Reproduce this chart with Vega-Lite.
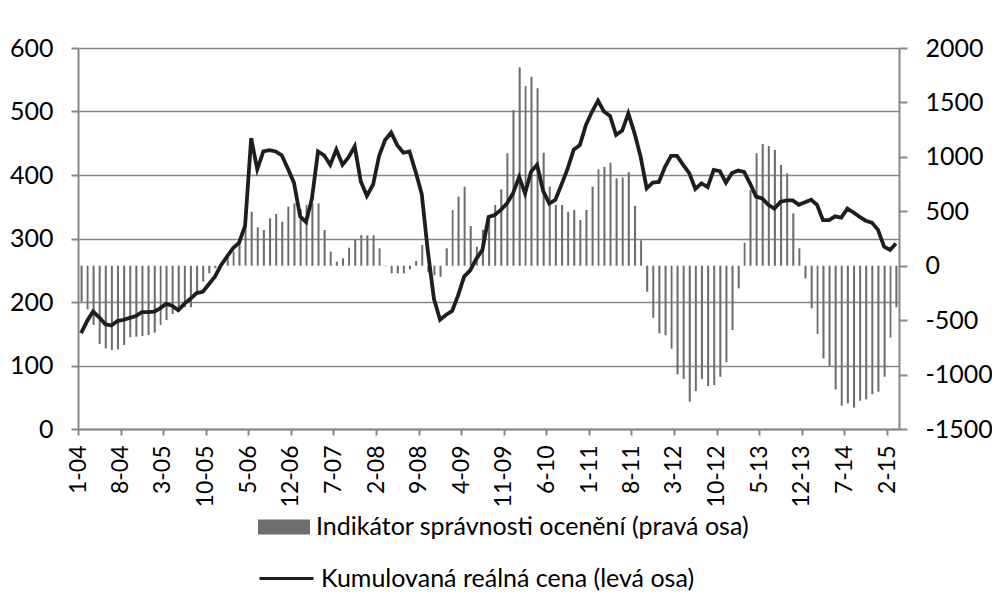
{
  "$schema": "https://vega.github.io/schema/vega-lite/v6.json",
  "width": 821,
  "height": 381,
  "autosize": "none",
  "padding": {"left": 78, "top": 48, "right": 93, "bottom": 181},
  "background": "white",
  "config": {
    "font": "Lato",
    "view": {"stroke": null},
    "axis": {
      "domainColor": "#878787",
      "domainWidth": 2,
      "tickColor": "#878787",
      "tickWidth": 2,
      "gridColor": "#878787",
      "gridWidth": 1.5,
      "labelFont": "Lato",
      "labelFontSize": 25,
      "labelColor": "#000000"
    }
  },
  "data": {
    "values": [
      {"month": "2004-01", "price": 151, "indicator": -331},
      {"month": "2004-02", "price": 170, "indicator": -401},
      {"month": "2004-03", "price": 185, "indicator": -545},
      {"month": "2004-04", "price": 176, "indicator": -719},
      {"month": "2004-05", "price": 165, "indicator": -759},
      {"month": "2004-06", "price": 163, "indicator": -774},
      {"month": "2004-07", "price": 170, "indicator": -768},
      {"month": "2004-08", "price": 172, "indicator": -728},
      {"month": "2004-09", "price": 175, "indicator": -658},
      {"month": "2004-10", "price": 178, "indicator": -652},
      {"month": "2004-11", "price": 184, "indicator": -646},
      {"month": "2004-12", "price": 184, "indicator": -637},
      {"month": "2005-01", "price": 185, "indicator": -615},
      {"month": "2005-02", "price": 190, "indicator": -545},
      {"month": "2005-03", "price": 197, "indicator": -499},
      {"month": "2005-04", "price": 194, "indicator": -444},
      {"month": "2005-05", "price": 187, "indicator": -416},
      {"month": "2005-06", "price": 197, "indicator": -382},
      {"month": "2005-07", "price": 205, "indicator": -382},
      {"month": "2005-08", "price": 214, "indicator": -254},
      {"month": "2005-09", "price": 216, "indicator": -147},
      {"month": "2005-10", "price": 228, "indicator": -70},
      {"month": "2005-11", "price": 240, "indicator": -24},
      {"month": "2005-12", "price": 258, "indicator": 30},
      {"month": "2006-01", "price": 272, "indicator": 80},
      {"month": "2006-02", "price": 285, "indicator": 130},
      {"month": "2006-03", "price": 293, "indicator": 200},
      {"month": "2006-04", "price": 320, "indicator": 383},
      {"month": "2006-05", "price": 458, "indicator": 496},
      {"month": "2006-06", "price": 409, "indicator": 353},
      {"month": "2006-07", "price": 437, "indicator": 328},
      {"month": "2006-08", "price": 439, "indicator": 435},
      {"month": "2006-09", "price": 437, "indicator": 475},
      {"month": "2006-10", "price": 431, "indicator": 404},
      {"month": "2006-11", "price": 410, "indicator": 542},
      {"month": "2006-12", "price": 388, "indicator": 573},
      {"month": "2007-01", "price": 335, "indicator": 520},
      {"month": "2007-02", "price": 326, "indicator": 558},
      {"month": "2007-03", "price": 363, "indicator": 573},
      {"month": "2007-04", "price": 437, "indicator": 573},
      {"month": "2007-05", "price": 431, "indicator": 328},
      {"month": "2007-06", "price": 416, "indicator": 129},
      {"month": "2007-07", "price": 440, "indicator": 37},
      {"month": "2007-08", "price": 416, "indicator": 68},
      {"month": "2007-09", "price": 428, "indicator": 165},
      {"month": "2007-10", "price": 445, "indicator": 236},
      {"month": "2007-11", "price": 390, "indicator": 282},
      {"month": "2007-12", "price": 367, "indicator": 279},
      {"month": "2008-01", "price": 385, "indicator": 279},
      {"month": "2008-02", "price": 430, "indicator": 160},
      {"month": "2008-03", "price": 455, "indicator": -5},
      {"month": "2008-04", "price": 467, "indicator": -70},
      {"month": "2008-05", "price": 447, "indicator": -70},
      {"month": "2008-06", "price": 435, "indicator": -70},
      {"month": "2008-07", "price": 437, "indicator": -33},
      {"month": "2008-08", "price": 405, "indicator": 43},
      {"month": "2008-09", "price": 370, "indicator": 190},
      {"month": "2008-10", "price": 280, "indicator": -60},
      {"month": "2008-11", "price": 205, "indicator": -88},
      {"month": "2008-12", "price": 172, "indicator": -101},
      {"month": "2009-01", "price": 180, "indicator": 160},
      {"month": "2009-02", "price": 186, "indicator": 512},
      {"month": "2009-03", "price": 210, "indicator": 634},
      {"month": "2009-04", "price": 240, "indicator": 726},
      {"month": "2009-05", "price": 250, "indicator": 365},
      {"month": "2009-06", "price": 268, "indicator": 175},
      {"month": "2009-07", "price": 282, "indicator": 330},
      {"month": "2009-08", "price": 334, "indicator": 420},
      {"month": "2009-09", "price": 337, "indicator": 558},
      {"month": "2009-10", "price": 345, "indicator": 702},
      {"month": "2009-11", "price": 355, "indicator": 1033},
      {"month": "2009-12", "price": 371, "indicator": 1430},
      {"month": "2010-01", "price": 397, "indicator": 1822},
      {"month": "2010-02", "price": 371, "indicator": 1651},
      {"month": "2010-03", "price": 405, "indicator": 1736},
      {"month": "2010-04", "price": 416, "indicator": 1630},
      {"month": "2010-05", "price": 375, "indicator": 1038},
      {"month": "2010-06", "price": 355, "indicator": 726},
      {"month": "2010-07", "price": 361, "indicator": 558},
      {"month": "2010-08", "price": 385, "indicator": 558},
      {"month": "2010-09", "price": 410, "indicator": 496},
      {"month": "2010-10", "price": 440, "indicator": 512},
      {"month": "2010-11", "price": 447, "indicator": 420},
      {"month": "2010-12", "price": 479, "indicator": 512},
      {"month": "2011-01", "price": 500, "indicator": 726},
      {"month": "2011-02", "price": 517, "indicator": 886},
      {"month": "2011-03", "price": 500, "indicator": 909},
      {"month": "2011-04", "price": 493, "indicator": 946},
      {"month": "2011-05", "price": 463, "indicator": 803},
      {"month": "2011-06", "price": 470, "indicator": 810},
      {"month": "2011-07", "price": 497, "indicator": 860},
      {"month": "2011-08", "price": 466, "indicator": 550},
      {"month": "2011-09", "price": 429, "indicator": 233},
      {"month": "2011-10", "price": 379, "indicator": -239},
      {"month": "2011-11", "price": 388, "indicator": -478},
      {"month": "2011-12", "price": 389, "indicator": -621},
      {"month": "2012-01", "price": 413, "indicator": -639},
      {"month": "2012-02", "price": 430, "indicator": -762},
      {"month": "2012-03", "price": 430, "indicator": -998},
      {"month": "2012-04", "price": 416, "indicator": -1041},
      {"month": "2012-05", "price": 403, "indicator": -1249},
      {"month": "2012-06", "price": 378, "indicator": -1151},
      {"month": "2012-07", "price": 387, "indicator": -1041},
      {"month": "2012-08", "price": 381, "indicator": -1105},
      {"month": "2012-09", "price": 408, "indicator": -1096},
      {"month": "2012-10", "price": 406, "indicator": -1020},
      {"month": "2012-11", "price": 388, "indicator": -887},
      {"month": "2012-12", "price": 403, "indicator": -591},
      {"month": "2013-01", "price": 407, "indicator": -208},
      {"month": "2013-02", "price": 405, "indicator": 211},
      {"month": "2013-03", "price": 387, "indicator": 695},
      {"month": "2013-04", "price": 366, "indicator": 1033},
      {"month": "2013-05", "price": 363, "indicator": 1118},
      {"month": "2013-06", "price": 353, "indicator": 1100},
      {"month": "2013-07", "price": 347, "indicator": 1063},
      {"month": "2013-08", "price": 358, "indicator": 925},
      {"month": "2013-09", "price": 360, "indicator": 849},
      {"month": "2013-10", "price": 360, "indicator": 481},
      {"month": "2013-11", "price": 353, "indicator": 160},
      {"month": "2013-12", "price": 357, "indicator": -116},
      {"month": "2014-01", "price": 361, "indicator": -391},
      {"month": "2014-02", "price": 353, "indicator": -627},
      {"month": "2014-03", "price": 329, "indicator": -851},
      {"month": "2014-04", "price": 329, "indicator": -921},
      {"month": "2014-05", "price": 335, "indicator": -1136},
      {"month": "2014-06", "price": 333, "indicator": -1286},
      {"month": "2014-07", "price": 347, "indicator": -1264},
      {"month": "2014-08", "price": 341, "indicator": -1304},
      {"month": "2014-09", "price": 334, "indicator": -1240},
      {"month": "2014-10", "price": 328, "indicator": -1228},
      {"month": "2014-11", "price": 325, "indicator": -1181},
      {"month": "2014-12", "price": 314, "indicator": -1157},
      {"month": "2015-01", "price": 287, "indicator": -1020},
      {"month": "2015-02", "price": 282, "indicator": -661},
      {"month": "2015-03", "price": 292, "indicator": -382}
    ]
  },
  "layer": [
    {
      "mark": {"type": "bar", "width": {"band": 0.5}},
      "encoding": {
        "x": {
          "field": "month",
          "type": "temporal",
          "timeUnit": "utcyearmonth",
          "scale": {
            "domain": [
              {"year": 2004, "month": 1, "date": 1, "utc": true},
              {"year": 2015, "month": 4, "date": 1, "utc": true}
            ]
          },
          "axis": {
            "title": null,
            "grid": false,
            "values": [
              {"year": 2004, "month": 1, "date": 1, "utc": true},
              {"year": 2004, "month": 8, "date": 1, "utc": true},
              {"year": 2005, "month": 3, "date": 1, "utc": true},
              {"year": 2005, "month": 10, "date": 1, "utc": true},
              {"year": 2006, "month": 5, "date": 1, "utc": true},
              {"year": 2006, "month": 12, "date": 1, "utc": true},
              {"year": 2007, "month": 7, "date": 1, "utc": true},
              {"year": 2008, "month": 2, "date": 1, "utc": true},
              {"year": 2008, "month": 9, "date": 1, "utc": true},
              {"year": 2009, "month": 4, "date": 1, "utc": true},
              {"year": 2009, "month": 11, "date": 1, "utc": true},
              {"year": 2010, "month": 6, "date": 1, "utc": true},
              {"year": 2011, "month": 1, "date": 1, "utc": true},
              {"year": 2011, "month": 8, "date": 1, "utc": true},
              {"year": 2012, "month": 3, "date": 1, "utc": true},
              {"year": 2012, "month": 10, "date": 1, "utc": true},
              {"year": 2013, "month": 5, "date": 1, "utc": true},
              {"year": 2013, "month": 12, "date": 1, "utc": true},
              {"year": 2014, "month": 7, "date": 1, "utc": true},
              {"year": 2015, "month": 2, "date": 1, "utc": true}
            ],
            "labelExpr": "utcFormat(datum.value, '%-m-%y')",
            "labelAngle": 270,
            "labelFontSize": 23,
            "labelOverlap": false,
            "tickSize": 6,
            "labelPadding": 10
          }
        },
        "y": {
          "field": "indicator",
          "type": "quantitative",
          "scale": {"domain": [-1500, 2000]},
          "axis": {
            "orient": "right",
            "title": null,
            "grid": false,
            "values": [-1500, -1000, -500, 0, 500, 1000, 1500, 2000],
            "labelExpr": "datum.value + ''",
            "tickSize": 8,
            "labelPadding": 18
          }
        },
        "fill": {
          "datum": "Indikátor správnosti ocenění (pravá osa)",
          "scale": {"range": ["#6e6e6e"]},
          "legend": {
            "orient": "none",
            "legendX": 180,
            "legendY": 453,
            "title": null,
            "padding": 0,
            "symbolType": "M-1,-0.29H1V0.29H-1Z",
            "symbolSize": 2704,
            "symbolStrokeWidth": 0,
            "labelFont": "Lato",
            "labelFontSize": 25,
            "labelColor": "#000000",
            "labelOffset": 6,
            "labelLimit": 0
          }
        }
      }
    },
    {
      "mark": {"type": "line", "strokeWidth": 3.8, "strokeJoin": "miter"},
      "encoding": {
        "x": {
          "field": "month",
          "type": "temporal",
          "timeUnit": "utcyearmonth",
          "bandPosition": 0.5,
          "axis": {
            "title": null,
            "grid": false,
            "values": [
              {"year": 2004, "month": 1, "date": 1, "utc": true},
              {"year": 2004, "month": 8, "date": 1, "utc": true},
              {"year": 2005, "month": 3, "date": 1, "utc": true},
              {"year": 2005, "month": 10, "date": 1, "utc": true},
              {"year": 2006, "month": 5, "date": 1, "utc": true},
              {"year": 2006, "month": 12, "date": 1, "utc": true},
              {"year": 2007, "month": 7, "date": 1, "utc": true},
              {"year": 2008, "month": 2, "date": 1, "utc": true},
              {"year": 2008, "month": 9, "date": 1, "utc": true},
              {"year": 2009, "month": 4, "date": 1, "utc": true},
              {"year": 2009, "month": 11, "date": 1, "utc": true},
              {"year": 2010, "month": 6, "date": 1, "utc": true},
              {"year": 2011, "month": 1, "date": 1, "utc": true},
              {"year": 2011, "month": 8, "date": 1, "utc": true},
              {"year": 2012, "month": 3, "date": 1, "utc": true},
              {"year": 2012, "month": 10, "date": 1, "utc": true},
              {"year": 2013, "month": 5, "date": 1, "utc": true},
              {"year": 2013, "month": 12, "date": 1, "utc": true},
              {"year": 2014, "month": 7, "date": 1, "utc": true},
              {"year": 2015, "month": 2, "date": 1, "utc": true}
            ],
            "labelExpr": "utcFormat(datum.value, '%-m-%y')",
            "labelAngle": 270,
            "labelFontSize": 23,
            "labelOverlap": false,
            "tickSize": 6,
            "labelPadding": 10
          }
        },
        "y": {
          "field": "price",
          "type": "quantitative",
          "scale": {"domain": [0, 600]},
          "axis": {
            "orient": "left",
            "title": null,
            "grid": true,
            "values": [0, 100, 200, 300, 400, 500, 600],
            "tickSize": 7,
            "labelPadding": 18
          }
        },
        "stroke": {
          "datum": "Kumulovaná reálná cena (levá osa)",
          "scale": {"range": ["#1e1e1e"]},
          "legend": {
            "orient": "none",
            "legendX": 180,
            "legendY": 502,
            "title": null,
            "padding": 0,
            "symbolType": "stroke",
            "symbolSize": 2916,
            "symbolStrokeWidth": 3,
            "labelFont": "Lato",
            "labelFontSize": 25,
            "labelColor": "#000000",
            "labelOffset": 6,
            "labelLimit": 0
          }
        }
      }
    }
  ],
  "resolve": {"scale": {"y": "independent"}}
}
